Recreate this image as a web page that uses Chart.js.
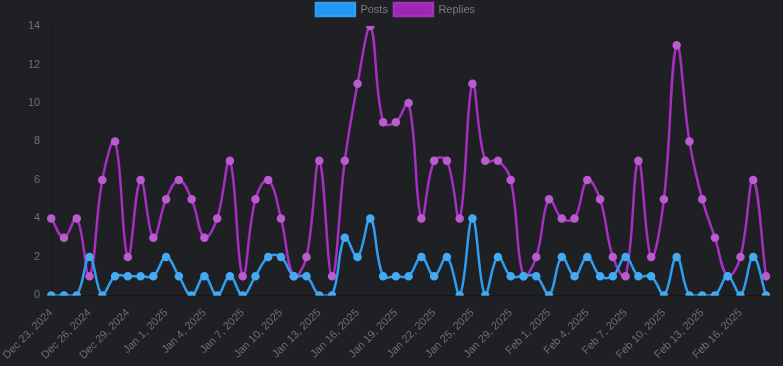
<!DOCTYPE html>
<html>
<head>
<meta charset="utf-8">
<script src="https://cdn.jsdelivr.net/npm/chart.js@4.4.1/dist/chart.umd.min.js"></script>
<style>
  html, body { margin: 0; padding: 0; background: #1f2024; }
  #wrap { width: 783px; height: 366px; }
</style>
</head>
<body>
<div id="wrap"><canvas id="activityChart"></canvas></div>
<script>
'use strict';

/* ── Data ─────────────────────────────────── */
const DATES = [
  'Dec 23, 2024','Dec 24, 2024','Dec 25, 2024','Dec 26, 2024','Dec 27, 2024','Dec 28, 2024',
  'Dec 29, 2024','Dec 30, 2024','Dec 31, 2024','Jan 1, 2025','Jan 2, 2025','Jan 3, 2025',
  'Jan 4, 2025','Jan 5, 2025','Jan 6, 2025','Jan 7, 2025','Jan 8, 2025','Jan 9, 2025',
  'Jan 10, 2025','Jan 11, 2025','Jan 12, 2025','Jan 13, 2025','Jan 14, 2025','Jan 15, 2025',
  'Jan 16, 2025','Jan 17, 2025','Jan 18, 2025','Jan 19, 2025','Jan 20, 2025','Jan 21, 2025',
  'Jan 22, 2025','Jan 23, 2025','Jan 24, 2025','Jan 25, 2025','Jan 26, 2025','Jan 27, 2025',
  'Jan 29, 2025','Jan 30, 2025','Jan 31, 2025','Feb 1, 2025','Feb 2, 2025','Feb 3, 2025',
  'Feb 4, 2025','Feb 5, 2025','Feb 6, 2025','Feb 7, 2025','Feb 8, 2025','Feb 9, 2025',
  'Feb 10, 2025','Feb 11, 2025','Feb 12, 2025','Feb 13, 2025','Feb 14, 2025','Feb 15, 2025',
  'Feb 16, 2025','Feb 17, 2025','Feb 18, 2025'
];

const POSTS = [
  0,0,0,2,0,1,1,1,1,2,1,0,1,0,1,0,1,2,2,1,1,0,0,3,2,4,1,1,1,2,
  1,2,0,4,0,2,1,1,1,0,2,1,2,1,1,2,1,1,0,2,0,0,0,1,0,2,0
];

const REPLIES = [
  4,3,4,1,6,8,2,6,3,5,6,5,3,4,7,1,5,6,4,1,2,7,1,7,11,14,9,9,10,4,
  7,7,4,11,7,7,6,1,2,5,4,4,6,5,2,1,7,2,5,13,8,5,3,1,2,6,1
];

const Y_MAX = 14;
const LABEL_EVERY = 3;

/* ── Chart ────────────────────────────────── */
Chart.defaults.font.family = "'Liberation Sans', Arial, sans-serif";
Chart.defaults.font.size   = 11;
Chart.defaults.color       = '#7a7b80';

new Chart(document.getElementById('activityChart').getContext('2d'), {
  type: 'line',
  data: {
    labels: DATES,
    datasets: [
      {
        label: 'Posts',
        data: POSTS,
        borderColor: '#2e9ff0',
        backgroundColor: '#2196f3',
        pointBackgroundColor: '#45aaf2',
        pointBorderColor: '#45aaf2',
        borderWidth: 2.5,
        pointRadius: 3,
        tension: 0.4,
      },
      {
        label: 'Replies',
        data: REPLIES,
        borderColor: '#a52fc0',
        backgroundColor: '#9c27b0',
        pointBackgroundColor: '#bb5bd0',
        pointBorderColor: '#bb5bd0',
        borderWidth: 2.5,
        pointRadius: 3,
        tension: 0.4,
      },
    ],
  },
  options: {
    responsive: true,
    maintainAspectRatio: false,
    animation: false,
    layout: { padding: { top: -3, right: 17, left: 25, bottom: 1 } },
    plugins: {
      legend: {
        labels: { boxWidth: 39, boxHeight: 13, padding: 6, color: '#7a7b80' },
      },
    },
    scales: {
      x: {
        grid: { display: false },
        border: { color: '#15161a' },
        ticks: {
          autoSkip: false,
          maxRotation: 45,
          minRotation: 45,
          color: '#6e6f74',
          callback: (v, i) => (i % LABEL_EVERY === 0 ? DATES[i] : ''),
        },
      },
      y: {
        min: 0,
        max: Y_MAX,
        grid: { display: false },
        border: { color: '#15161a' },
        ticks: { stepSize: 2, color: '#6e6f74' },
      },
    },
  },
});
</script>
</body>
</html>
